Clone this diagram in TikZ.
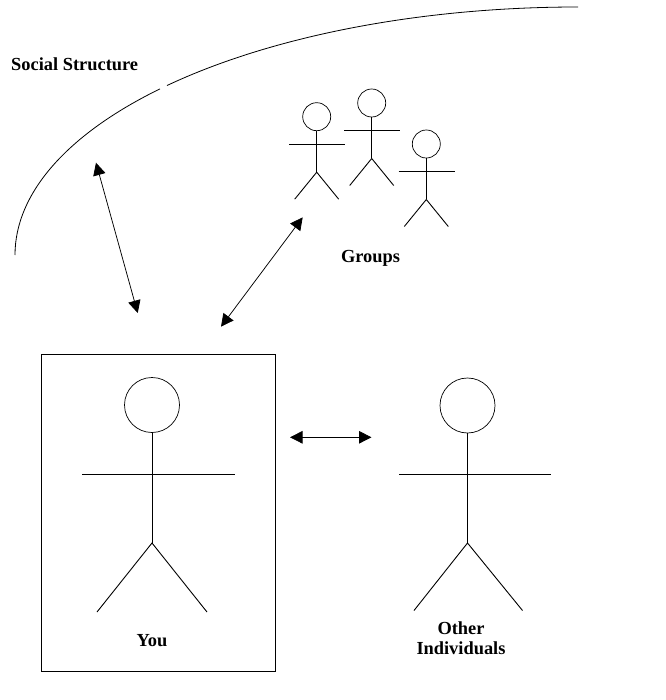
\documentclass[tikz,border=0pt]{standalone}
\usepackage{fontspec}
\setmainfont{Liberation Serif}
\usetikzlibrary{arrows, arrows.meta}
\tikzset{both/.style={{Triangle[length=12.5pt,width=12.5pt]}-{Triangle[length=12.5pt,width=12.5pt]}, line width=0.75pt}}
\tikzset{body/.style={line width=0.9pt}}
\tikzset{caption/.style={font=\bfseries\fontsize{18.4}{20}\selectfont, align=center}}

\begin{document}
\begin{tikzpicture}[x=1pt, y=-1pt]
\useasboundingbox (0,0) rectangle (665,700);

\begin{scope}[every node/.style={circle, draw, inner sep=0pt, line width=0.7pt}]
  \node[minimum size=55pt] (youhead) at (152,405) {};
  \node[minimum size=55pt] (otherhead) at (467.5,405.5) {};
  \node[minimum size=28pt] (grouphead1) at (316.7,116.7) {};
  \node[minimum size=28pt] (grouphead2) at (371.7,103) {};
  \node[minimum size=28pt] (grouphead3) at (426.3,144) {};
\end{scope}

\node[draw, line width=0.9pt, minimum width=234pt, minimum height=317pt, inner sep=0pt] (youbox) at (158,512.5) {};

\coordinate (youhip) at (152,543);
\draw[body] (youhead) -- (youhip);
\draw[body] (82,474) -- (235,474);
\draw[body] (97,612) -- (youhip) -- (207,612);

\coordinate (otherhip) at (467.5,543);
\draw[body] (otherhead) -- (otherhip);
\draw[body] (399,474) -- (551,474);
\draw[body] (414,610.5) -- (otherhip) -- (522.5,610.5);

\foreach \n/\px/\py in {1/316.7/116.7, 2/371.7/103, 3/426.3/144} {
  \coordinate (grouphip\n) at (\px,\py+55.5);
  \draw[body] (grouphead\n) -- (grouphip\n);
  \draw[body] (\px-27.7,\py+27.8) -- (\px+28.3,\py+27.8);
  \draw[body] (\px-22,\py+82.5) -- (grouphip\n) -- (\px+22,\py+82.5);
}

% the curve is one quarter of an ellipse, with a small break in it
\coordinate (arcstart) at (15,255);
\coordinate (arcend) at (578,7);
\draw[line width=0.8pt] (arcstart) arc[start angle=180, end angle=222.05, x radius=563, y radius=248];
\draw[line width=0.8pt] (arcend) arc[start angle=270, end angle=223.1, x radius=563, y radius=248];

\coordinate (socialend) at (96,162.7);
\coordinate (youtop) at (137.7,313);
\coordinate (groupend) at (302.7,217.3);
\coordinate (youcorner) at (221,326.7);
\coordinate (youside) at (290,437.3);
\coordinate (otherside) at (371.5,437.3);

\draw[both] (socialend) -- (youtop);
\draw[both] (groupend) -- (youcorner);
\draw[both] (youside) -- (otherside);

\begin{scope}[every node/.style={caption}]
  \node[anchor=west, inner sep=0pt] (social) at (11,64) {Social Structure};
  \node (groups) at (370.5,258) {Groups};
  \node (you) at (152,641) {You};
  \node (other) at (461,638) {Other\\Individuals};
\end{scope}

\end{tikzpicture}
\end{document}
